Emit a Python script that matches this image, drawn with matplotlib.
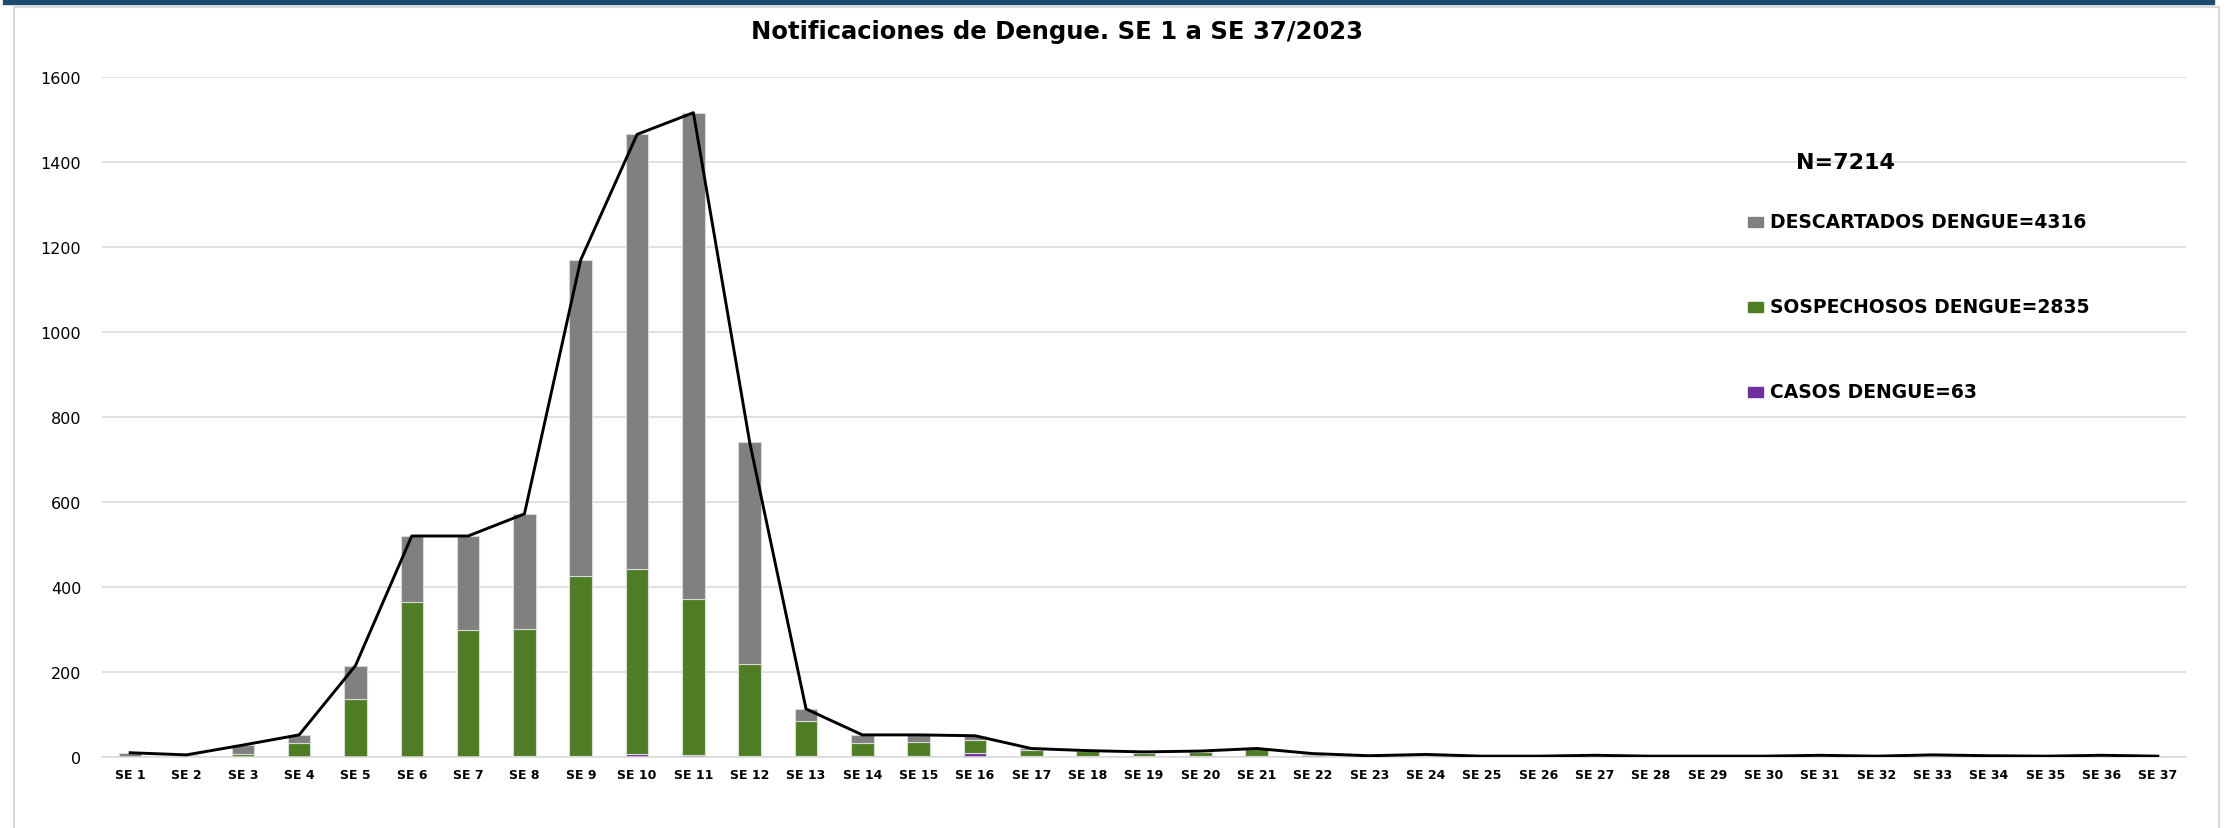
import matplotlib
matplotlib.use("Agg")
import matplotlib.pyplot as plt
from matplotlib.patches import Rectangle
import numpy as np

semanas = ["SE %d" % i for i in range(1, 38)]

casos = [0, 0, 0, 0, 0, 0, 1, 2, 3, 6, 4, 2, 3, 3, 2, 10, 2, 2, 3, 2, 2, 5,
         1, 2, 1, 0, 1, 0, 0, 0, 1, 0, 2, 0, 1, 2, 0]
sospechosos = [0, 3, 8, 33, 137, 365, 297, 300, 422, 436, 368, 216, 81, 30, 34,
               30, 14, 11, 6, 9, 17, 2, 1, 2, 1, 1, 1, 1, 1, 1, 2, 1, 1, 1, 0, 1, 1]
descartados = [10, 2, 20, 19, 78, 155, 222, 270, 745, 1023, 1144, 522, 29, 19,
               16, 10, 4, 2, 3, 3, 1, 1, 1, 2, 0, 1, 2, 1, 1, 1, 1, 1, 2, 2, 1, 1, 1]

leyenda = ["DESCARTADOS DENGUE=4316", "SOSPECHOSOS DENGUE=2835", "CASOS DENGUE=63"]
total_n = "N=7214"

c_desc = "#808080"
c_sosp = "#4E7D24"
c_casos = "#7030A0"

fig = plt.figure(figsize=(22.29, 8.29), dpi=100)
ax = fig.add_axes([0.04576, 0.08565, 0.93495, 0.82026])

x = np.arange(len(semanas))
w = 0.40
casos_a = np.array(casos)
sosp_a = np.array(sospechosos)
desc_a = np.array(descartados)
total = casos_a + sosp_a + desc_a

ax.bar(x, casos_a, w, color=c_casos, edgecolor="#d9d9d9", linewidth=0.8, zorder=2)
ax.bar(x, sosp_a, w, bottom=casos_a, color=c_sosp, edgecolor="#d9d9d9",
       linewidth=0.8, zorder=2)
ax.bar(x, desc_a, w, bottom=casos_a + sosp_a, color=c_desc, edgecolor="#d9d9d9",
       linewidth=0.8, zorder=2)
ax.plot(x, total, color="black", linewidth=2.1, zorder=3)

ax.set_xlim(-0.5, len(semanas) - 0.5)
ax.set_ylim(0, 1600)
ax.set_yticks(range(0, 1601, 200))
ax.set_xticks(x)
ax.set_xticklabels(semanas, fontsize=9, fontweight="bold")
ax.tick_params(axis="y", length=0, pad=15, labelsize=11.5)
ax.tick_params(axis="x", length=0, pad=8)
ax.grid(axis="y", color="#d9d9d9", linewidth=1.1, zorder=0)
for s in ["top", "right", "left"]:
    ax.spines[s].set_visible(False)
ax.spines["bottom"].set_color("#d9d9d9")
ax.spines["bottom"].set_linewidth(1.1)

fig.text(0.4742, 0.9610, "Notificaciones de Dengue. SE 1 a SE 37/2023",
         ha="center", va="center", fontsize=17.5, fontweight="bold")

# leyenda manual
W, H = 2229.0, 829.0
fig.text(1845 / W, 1 - 163 / H, total_n, ha="center", va="center",
         fontsize=16, fontweight="bold")
ys = [223, 308, 393]
for lab, col, yy in zip(leyenda, [c_desc, c_sosp, c_casos], ys):
    fig.patches.append(Rectangle((1748 / W, 1 - (yy + 5) / H), 15 / W, 10 / H,
                                 transform=fig.transFigure, color=col))
    fig.text(1770 / W, 1 - yy / H, lab, ha="left", va="center",
             fontsize=13.5, fontweight="bold")

# marco y banda superior
fig.patches.append(Rectangle((14 / W, -0.01), (2219 - 14) / W, 1.0,
                             transform=fig.transFigure, fill=False,
                             edgecolor="#d9d9d9", linewidth=1.5))
fig.patches.append(Rectangle((3 / W, 1 - 5 / H), (2214 - 3) / W, 5 / H,
                             transform=fig.transFigure, color="#1F4A70"))

fig.savefig("out.png", dpi=100)
